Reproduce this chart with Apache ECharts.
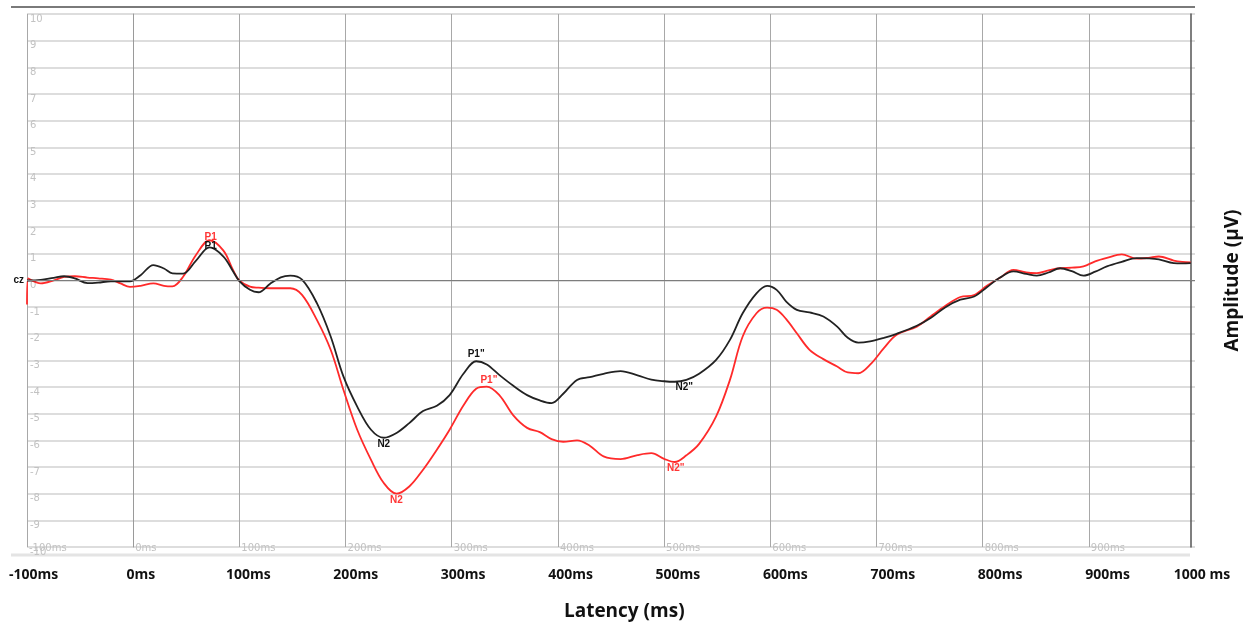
<!DOCTYPE html>
<html>
<head>
<meta charset="utf-8">
<title>ERP Cz</title>
<script src="https://cdn.jsdelivr.net/npm/echarts@6/dist/echarts.min.js"></script>
<style>
  html, body { margin: 0; padding: 0; background: #fff; }
  #chart { width: 1254px; height: 628px; }
</style>
</head>
<body>
<div id="chart"></div>
<script>
// latency (ms) sample points
const latency = [-100, -99, -87, -75, -65, -55, -43, -33, -21, -12, -3, 7, 19, 29, 37, 47, 59, 72, 85, 94,
  100, 110, 118, 129, 139, 148, 159, 173, 186, 198, 211, 224, 236, 248, 260, 273, 286, 298, 311, 323,
  333, 345, 358, 371, 383, 394, 405, 418, 430, 443, 459, 475, 488, 500, 510, 521, 533, 549, 562, 574,
  587, 597, 606, 615, 625, 637, 650, 663, 673, 683, 694, 707, 719, 738, 751, 765, 779, 792, 804, 816,
  829, 841, 851, 862, 873, 884, 895, 906, 917, 931, 945, 956, 966, 980, 988, 996];

// black trace (µV)
const blackAmp = [0.0, 0.0, 0.02, 0.1, 0.16, 0.08, -0.1, -0.08, -0.03, -0.03, -0.03, 0.2, 0.58, 0.45, 0.27, 0.26, 0.74, 1.24, 0.9, 0.35,
  -0.02, -0.35, -0.44, -0.12, 0.12, 0.18, 0.03, -0.85, -2.1, -3.6, -4.73, -5.6, -5.9, -5.72, -5.35, -4.9, -4.7, -4.3, -3.5, -3.03,
  -3.15, -3.55, -3.95, -4.3, -4.5, -4.6, -4.25, -3.73, -3.63, -3.5, -3.4, -3.56, -3.72, -3.78, -3.8, -3.73, -3.5, -2.98, -2.23, -1.23,
  -0.48, -0.2, -0.35, -0.79, -1.1, -1.2, -1.35, -1.73, -2.15, -2.33, -2.28, -2.15, -2.0, -1.7, -1.41, -1.0, -0.72, -0.6, -0.25, 0.1,
  0.34, 0.25, 0.18, 0.3, 0.46, 0.35, 0.18, 0.33, 0.53, 0.7, 0.84, 0.83, 0.79, 0.65, 0.64, 0.65];

// red trace (µV)
const redAmp = [-0.9, 0.08, -0.11, 0.0, 0.14, 0.16, 0.11, 0.08, 0.03, -0.11, -0.24, -0.2, -0.11, -0.2, -0.22, 0.14, 0.95, 1.51, 1.12, 0.4,
  0.0, -0.23, -0.27, -0.29, -0.29, -0.29, -0.54, -1.48, -2.6, -4.1, -5.6, -6.73, -7.6, -8.0, -7.73, -7.1, -6.35, -5.6, -4.69, -4.06,
  -3.98, -4.31, -5.06, -5.53, -5.69, -5.95, -6.05, -6.0, -6.2, -6.6, -6.7, -6.55, -6.48, -6.69, -6.81, -6.56, -6.13, -5.1, -3.73, -2.1,
  -1.23, -1.02, -1.1, -1.45, -1.98, -2.6, -2.95, -3.23, -3.45, -3.48, -3.16, -2.54, -2.04, -1.73, -1.35, -0.95, -0.62, -0.55, -0.2, 0.09,
  0.4, 0.3, 0.28, 0.38, 0.46, 0.48, 0.53, 0.72, 0.85, 0.98, 0.82, 0.85, 0.9, 0.75, 0.7, 0.68];

// peak labels: name, latency, amplitude
const blackPeaks = [['P1', 73, 1.25], ['N2', 236, -5.9], ['P1"', 323, -3.03], ['N2"', 519, -3.78]];
const redPeaks = [['P1', 73, 1.53], ['N2', 248, -8.0], ['P1"', 335, -3.98], ['N2"', 511, -6.81]];

const boldFont = '"Open Sans", "Noto Sans", sans-serif';

const pairs = (ys) => latency.map((t, i) => [t, ys[i]]);

// P labels sit above a peak, N labels below a trough; P1 labels hug the curve
const peakMarks = (peaks, color, p1Gap) => ({
  symbol: 'circle',
  symbolSize: 1,
  itemStyle: { color: 'rgba(0,0,0,0)' },
  label: { show: true, color: color, fontSize: 10, fontWeight: 'bold', fontFamily: 'Arial, sans-serif', distance: 1 },
  data: peaks.map(p => ({
    name: p[0], coord: [p[1], p[2]],
    label: { position: p[0][0] === 'P' ? 'top' : 'bottom', formatter: p[0], distance: p[0] === 'P1' ? p1Gap : 1 },
  })),
});

const chart = echarts.init(document.getElementById('chart'), null, { renderer: 'canvas' });

chart.setOption({
  animation: false,
  backgroundColor: '#ffffff',
  grid: [
    { left: 27, right: 59, top: 14, bottom: 81 },
    { left: 33.5, right: 39, top: 561, height: 1 },
  ],
  xAxis: [
    {
      type: 'value', gridIndex: 0, min: -100, max: 1000, interval: 100,
      axisLine: { show: false }, axisTick: { show: false },
      splitLine: { show: true, showMaxLine: false, lineStyle: { color: '#a8a8a8', width: 1 } },
      axisLabel: {
        formatter: v => v + 'ms', color: '#c2c2c2', fontSize: 10, fontFamily: 'Tahoma, "DejaVu Sans", sans-serif',
        align: 'left', verticalAlign: 'middle', margin: 1, padding: [0, 0, 0, 2], showMaxLabel: false,
      },
    },
    {
      type: 'value', gridIndex: 1, min: -100, max: 1000, interval: 100,
      axisLine: { show: false }, axisTick: { show: false }, splitLine: { show: false },
      axisLabel: {
        margin: 6, color: '#111', fontSize: 14, fontWeight: 'bold', fontFamily: boldFont,
        formatter: v => v === 1000 ? '{e|1000 ms}' : v + 'ms',
        rich: { e: { color: '#111', fontSize: 14, fontWeight: 'bold', fontFamily: boldFont, padding: [0, 26, 0, 0] } },
      },
      name: 'Latency (ms)', nameLocation: 'middle', nameGap: 40,
      nameTextStyle: { color: '#111', fontSize: 19, fontWeight: 'bold', fontFamily: boldFont },
    },
  ],
  yAxis: [
    {
      type: 'value', gridIndex: 0, min: -10, max: 10, interval: 1,
      axisLine: { show: true, lineStyle: { color: '#9a9a9a', width: 1 } }, axisTick: { show: false },
      splitLine: { show: true, lineStyle: { color: '#d2d2d2', width: 1.5 } },
      axisLabel: {
        inside: true, verticalAlign: 'top', margin: 3, color: '#c2c2c2', fontSize: 10,
        fontFamily: 'Tahoma, "DejaVu Sans", sans-serif',
      },
    },
    {
      type: 'value', gridIndex: 0, position: 'right', offset: -4, min: -10, max: 10, interval: 1,
      axisLine: { show: true, lineStyle: { color: '#555', width: 1.5 } }, axisTick: { show: false },
      axisLabel: { show: false }, splitLine: { show: false },
      name: 'Amplitude (µV)', nameLocation: 'middle', nameRotate: 90, nameGap: 32,
      nameTextStyle: { color: '#111', fontSize: 19, fontWeight: 'bold', fontFamily: boldFont },
    },
    {
      type: 'value', gridIndex: 0, position: 'left', min: -10, max: 10, interval: 1,
      axisLine: { show: false }, axisTick: { show: false }, splitLine: { show: false },
      axisLabel: { margin: 3, color: '#111', fontSize: 10, fontWeight: 'bold', fontFamily: 'Arial, sans-serif',
        formatter: v => v === 0 ? 'cz' : '' },
    },
    { type: 'value', gridIndex: 1, show: false },
  ],
  graphic: [
    { type: 'line', shape: { x1: 11, y1: 7, x2: 1195, y2: 7 }, style: { stroke: '#7a7a7a', lineWidth: 2 }, silent: true },
    { type: 'line', shape: { x1: 11, y1: 555, x2: 1190, y2: 555 }, style: { stroke: '#e4e4e4', lineWidth: 3 }, silent: true },
  ],
  series: [
    {
      name: 'red', type: 'line', xAxisIndex: 0, yAxisIndex: 0, data: pairs(redAmp),
      smooth: 0.35, showSymbol: false, lineStyle: { color: '#ff2a2a', width: 1.8 }, itemStyle: { color: '#ff2a2a' },
      markPoint: peakMarks(redPeaks, '#ff3535', -3), z: 3,
    },
    {
      name: 'black', type: 'line', xAxisIndex: 0, yAxisIndex: 0, data: pairs(blackAmp),
      smooth: 0.35, showSymbol: false, lineStyle: { color: '#222', width: 1.8 }, itemStyle: { color: '#222' },
      markPoint: peakMarks(blackPeaks, '#111', -5),
      markLine: {
        silent: true, symbol: 'none', label: { show: false },
        lineStyle: { color: '#7d7d7d', width: 1, type: 'solid' },
        data: [{ yAxis: 0 }],
      },
      z: 4,
    },
  ],
});
</script>
</body>
</html>
